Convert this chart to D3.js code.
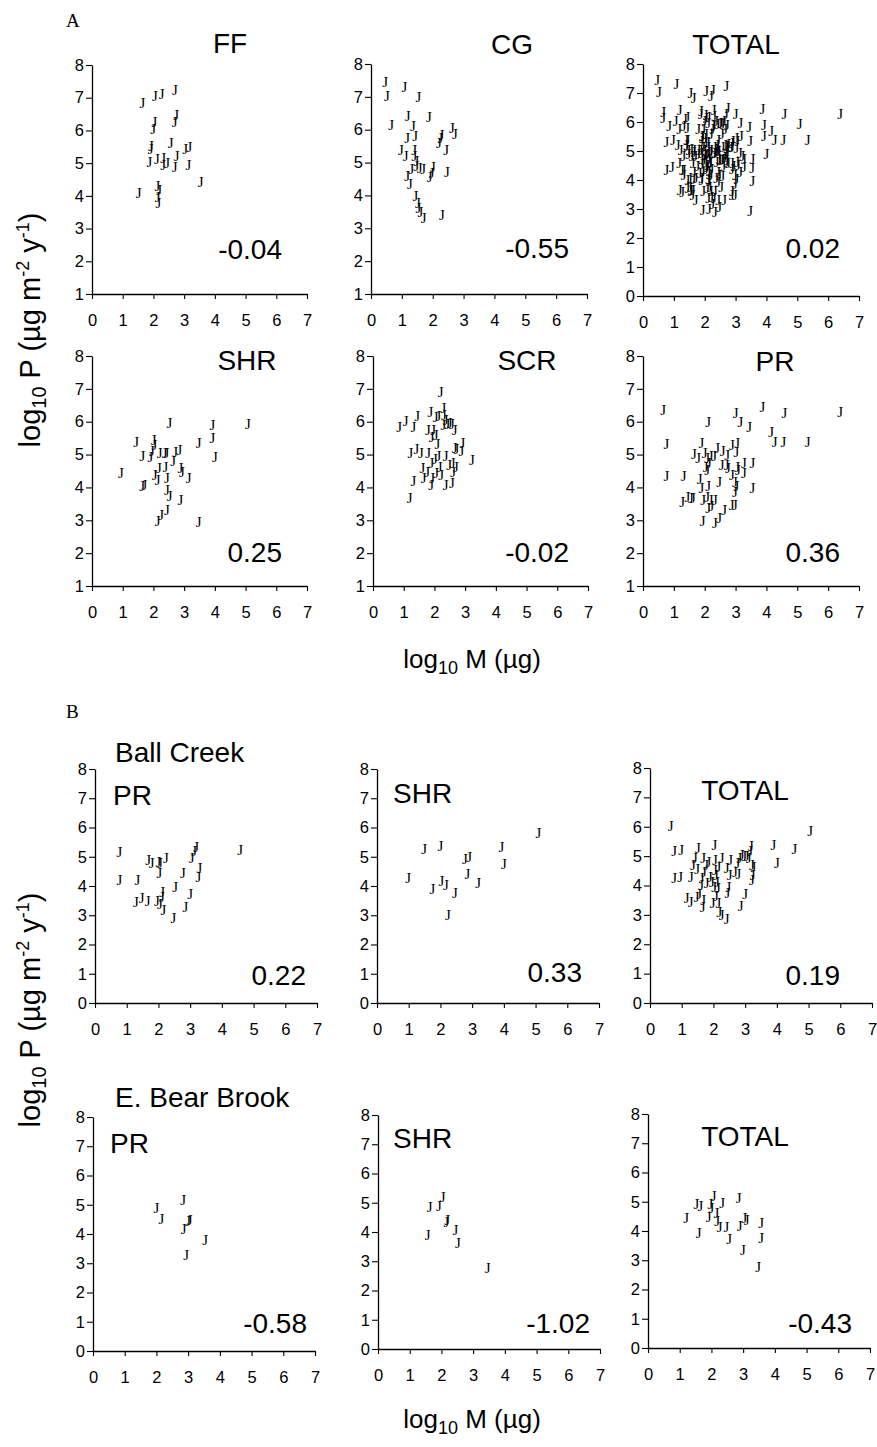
<!DOCTYPE html>
<html>
<head>
<meta charset="utf-8">
<script src="https://cdn.jsdelivr.net/npm/d3@7"></script>
<style>
  body { margin: 0; background: #fff; }
  text { fill: #000; }
</style>
</head>
<body>
<svg id="chart" width="877" height="1447"></svg>
<script>
// Each point: [log10 M (µg), log10 P (µg m-2 y-1)]

// --- A: all streams, by functional group ---
const ffPoints = [
  [1.52,4.08],[1.64,6.83],[2.05,7.06],[2.27,7.11],[2.70,7.24],[2.03,6.25],[1.99,6.03],
  [2.74,6.47],[2.69,6.27],[1.92,5.53],[1.91,5.43],[2.56,5.60],[3.03,5.43],[3.17,5.50],
  [1.87,5.04],[2.11,5.12],[2.32,5.15],[2.32,4.94],[2.45,5.00],[2.76,5.23],[2.69,4.89],
  [3.14,4.94],[3.54,4.41],[2.13,4.30],[2.19,4.18],[2.14,3.97],[2.16,3.77]
];
const cgPoints = [
  [0.46,7.45],[0.52,7.02],[1.08,7.30],[1.54,6.99],[0.65,6.13],[1.19,6.41],[1.88,6.39],
  [1.36,6.10],[1.17,5.75],[1.43,5.80],[2.62,6.05],[2.72,5.88],[2.28,5.85],[2.25,5.75],
  [2.20,5.60],[2.44,5.37],[0.97,5.37],[1.12,5.21],[1.40,5.37],[1.41,5.21],[1.47,5.04],
  [1.47,4.89],[1.31,4.81],[1.58,4.84],[1.69,4.81],[2.01,4.87],[1.97,4.68],[1.90,4.55],
  [2.46,4.71],[1.17,4.58],[1.26,4.36],[1.44,3.99],[1.52,3.77],[1.54,3.62],[1.60,3.49],
  [1.71,3.30],[2.30,3.39]
];
const shrPoints = [
  [0.94,4.43],[1.44,5.37],[1.64,4.97],[1.90,4.92],[1.95,5.12],[2.01,5.44],[2.03,5.29],
  [2.20,5.04],[2.37,5.06],[2.42,5.04],[2.71,5.09],[2.85,5.14],[2.64,4.79],[2.52,5.97],
  [3.92,5.90],[3.92,5.50],[3.47,5.34],[4.00,4.91],[5.08,5.93],[2.18,4.58],[2.39,4.63],
  [2.88,4.58],[2.93,4.48],[3.15,4.28],[2.04,4.38],[2.14,4.21],[2.44,4.28],[1.63,4.04],
  [1.71,4.07],[2.44,3.92],[2.53,3.74],[2.88,3.62],[2.44,3.31],[2.25,3.16],[2.14,2.99],
  [3.47,2.94]
];
const scrPoints = [
  [2.20,6.91],[0.85,5.85],[1.06,6.02],[1.32,5.85],[1.44,6.17],[1.87,6.28],[2.04,6.13],
  [2.13,6.17],[2.29,6.41],[2.31,6.20],[2.37,6.05],[2.42,5.92],[2.50,5.95],[2.57,5.92],
  [2.66,5.75],[2.29,5.90],[1.79,5.75],[1.96,5.75],[2.04,5.60],[1.91,5.53],[2.10,5.32],
  [1.22,5.04],[1.41,5.16],[1.56,5.06],[1.80,5.04],[2.13,4.96],[2.37,4.96],[2.02,4.86],
  [1.90,4.73],[2.66,5.19],[2.72,5.16],[2.91,5.36],[2.88,5.12],[3.22,4.84],[1.61,4.58],
  [1.76,4.48],[1.65,4.28],[1.32,4.18],[1.93,4.28],[1.89,4.08],[2.06,4.43],[2.17,4.63],
  [2.22,4.38],[2.48,4.68],[2.59,4.73],[2.70,4.63],[2.61,4.48],[2.37,4.08],[2.57,4.13],
  [1.19,3.67]
];
const prPoints = [
  [0.65,6.36],[0.76,5.31],[0.76,4.36],[1.32,4.36],[1.27,3.57],[1.44,3.72],[1.55,3.67],
  [1.62,3.67],[2.11,5.98],[3.00,6.26],[3.16,5.98],[3.44,5.83],[3.87,6.46],[4.58,6.26],
  [6.39,6.29],[4.15,5.68],[4.27,5.37],[4.55,5.37],[5.34,5.37],[1.89,5.34],[1.65,5.02],
  [1.79,4.89],[2.00,5.04],[2.08,4.89],[2.19,4.96],[2.31,4.94],[2.40,5.21],[2.58,5.12],
  [2.73,4.99],[2.88,5.29],[3.05,5.36],[3.03,5.09],[2.14,4.73],[2.03,4.63],[2.08,4.52],
  [2.55,4.68],[2.71,4.68],[2.75,4.59],[3.05,4.63],[3.08,4.52],[3.27,4.73],[3.27,4.45],
  [3.55,4.73],[1.84,4.24],[1.89,3.99],[2.11,4.05],[2.47,4.17],[2.88,4.37],[2.98,4.17],
  [3.03,4.03],[2.98,3.86],[3.55,3.98],[1.95,3.62],[2.08,3.72],[2.19,3.62],[2.33,3.62],
  [2.11,3.37],[2.22,3.42],[2.63,3.32],[2.87,3.47],[2.98,3.47],[2.47,3.06],[2.33,2.91],
  [1.93,2.98]
];
// Total is every group pooled
const totalPoints = [].concat(ffPoints, cgPoints, shrPoints, scrPoints, prPoints);

// --- B: two streams ---
const ballPrPoints = [
  [0.77,5.15],[0.77,4.21],[1.34,4.21],[1.29,3.44],[1.47,3.58],[1.66,3.50],[1.95,3.49],
  [2.05,3.38],[2.16,3.18],[2.47,2.89],[1.68,4.89],[1.79,4.78],[2.00,4.83],[2.05,4.78],
  [2.24,4.95],[2.03,4.43],[2.12,3.81],[2.11,3.63],[2.53,3.98],[2.77,4.43],[3.00,3.73],
  [2.85,3.29],[3.05,4.95],[3.13,5.18],[3.19,5.33],[3.29,4.61],[3.26,4.32],[4.58,5.23]
];
const ballShrPoints = [
  [0.98,4.28],[1.49,5.25],[2.00,5.36],[1.75,3.91],[2.03,4.17],[2.17,4.03],[2.46,3.75],
  [2.24,3.00],[2.77,4.93],[2.91,5.00],[2.85,4.40],[3.19,4.11],[3.92,5.34],[4.00,4.74],
  [5.09,5.82]
];
const ballTotalPoints = [
  [0.65,6.03],[0.76,5.16],[0.98,5.21],[0.76,4.25],[0.95,4.28],[1.51,5.27],[2.03,5.38],
  [3.18,5.35],[3.89,5.38],[4.55,5.25],[5.05,5.87],[4.00,4.76],[1.29,4.30],[1.35,4.70],
  [1.42,4.93],[1.68,4.93],[1.77,4.70],[1.84,4.81],[1.70,4.47],[1.63,4.25],[1.61,4.02],
  [1.16,3.56],[1.28,3.45],[1.47,3.62],[1.55,3.71],[1.66,3.28],[1.68,3.51],[1.79,4.08],
  [1.89,4.30],[1.95,4.13],[2.02,3.96],[2.08,4.36],[2.11,4.13],[2.14,3.90],[2.05,4.87],
  [2.16,4.64],[2.26,4.93],[2.05,4.53],[1.98,3.39],[2.08,3.64],[2.16,3.39],[2.19,3.11],
  [2.26,3.00],[2.42,2.85],[2.44,3.73],[2.47,3.96],[2.51,4.36],[2.42,4.59],[2.53,4.87],
  [2.68,4.47],[2.79,4.39],[2.76,4.76],[2.82,4.93],[2.89,5.04],[2.97,4.99],[3.05,4.99],
  [3.11,4.93],[3.16,5.16],[3.21,4.70],[3.24,4.36],[3.26,4.64],[3.21,4.17],[3.00,3.71],
  [2.86,3.30],[1.49,4.55]
];
const bearPrPoints = [
  [2.00,4.89],[2.16,4.51],[2.84,5.15],[3.05,4.49],[3.00,4.43],[2.86,4.17],[2.94,3.29],
  [3.54,3.78]
];
const bearShrPoints = [
  [1.63,4.85],[1.92,4.90],[2.04,5.21],[2.18,4.41],[2.16,4.33],[2.44,4.07],[2.52,3.61],
  [1.57,3.91],[3.46,2.76]
];
const bearTotalPoints = [
  [1.20,4.43],[1.53,4.93],[1.65,4.85],[1.60,3.92],[1.97,4.93],[2.00,4.78],[2.07,5.20],
  [2.34,4.97],[1.91,4.48],[2.16,4.62],[2.18,4.35],[2.26,4.14],[2.47,4.14],[2.56,3.71],
  [2.86,5.11],[2.89,4.18],[3.04,4.43],[3.11,4.37],[2.99,3.36],[3.57,4.26],[3.57,3.75],
  [3.47,2.78]
];

// Tick values and slope labels
const xTicks = [0, 1, 2, 3, 4, 5, 6, 7];
const yTicksFrom1 = [1, 2, 3, 4, 5, 6, 7, 8];
const yTicksFrom0 = [0, 1, 2, 3, 4, 5, 6, 7, 8];
const groupNames = ["FF", "CG", "TOTAL", "SHR", "SCR", "PR"];
const slopesA = ["-0.04", "-0.55", "0.02", "0.25", "-0.02", "0.36"];
const slopesBall = ["0.22", "0.33", "0.19"];
const slopesBear = ["-0.58", "-1.02", "-0.43"];

const SANS = "'Liberation Sans', Arial, Helvetica, sans-serif";
const SERIF = "'Liberation Serif', 'Times New Roman', serif";

const svg = d3.select("#chart");

// Panel frames: pixel extent of the plotting area for each panel
const panels = [
  // section A
  { pts: ffPoints,    x0: 92,  x1: 307, yT: 65,   yB: 294,  yMin: 1, title: groupNames[0], tx: 230, ty: 53,  tAnchor: "middle", r: slopesA[0], rx: 282, ry: 259 },
  { pts: cgPoints,    x0: 371, x1: 587, yT: 64,   yB: 294,  yMin: 1, title: groupNames[1], tx: 512, ty: 54,  tAnchor: "middle", r: slopesA[1], rx: 569, ry: 258 },
  { pts: totalPoints, x0: 643, x1: 859, yT: 64,   yB: 296,  yMin: 0, title: groupNames[2], tx: 736, ty: 54,  tAnchor: "middle", r: slopesA[2], rx: 840, ry: 258 },
  { pts: shrPoints,   x0: 92,  x1: 307, yT: 356,  yB: 586,  yMin: 1, title: groupNames[3], tx: 247, ty: 370, tAnchor: "middle", r: slopesA[3], rx: 282, ry: 562 },
  { pts: scrPoints,   x0: 373, x1: 588, yT: 356,  yB: 586,  yMin: 1, title: groupNames[4], tx: 527, ty: 370, tAnchor: "middle", r: slopesA[4], rx: 569, ry: 562 },
  { pts: prPoints,    x0: 643, x1: 859, yT: 356,  yB: 586,  yMin: 1, title: groupNames[5], tx: 775, ty: 371, tAnchor: "middle", r: slopesA[5], rx: 840, ry: 562 },
  // section B, Ball Creek
  { pts: ballPrPoints,    x0: 95,  x1: 317, yT: 769,  yB: 1003, yMin: 0, title: "PR",    tx: 113, ty: 805,  tAnchor: "start",  r: slopesBall[0], rx: 306, ry: 985 },
  { pts: ballShrPoints,   x0: 377, x1: 599, yT: 769,  yB: 1003, yMin: 0, title: "SHR",   tx: 393, ty: 803,  tAnchor: "start",  r: slopesBall[1], rx: 582, ry: 982 },
  { pts: ballTotalPoints, x0: 650, x1: 872, yT: 768,  yB: 1003, yMin: 0, title: "TOTAL", tx: 745, ty: 800,  tAnchor: "middle", r: slopesBall[2], rx: 840, ry: 985 },
  // section B, E. Bear Brook
  { pts: bearPrPoints,    x0: 93,  x1: 315, yT: 1117, yB: 1351, yMin: 0, title: "PR",    tx: 110, ty: 1153, tAnchor: "start",  r: slopesBear[0], rx: 307, ry: 1333 },
  { pts: bearShrPoints,   x0: 378, x1: 600, yT: 1115, yB: 1349, yMin: 0, title: "SHR",   tx: 393, ty: 1148, tAnchor: "start",  r: slopesBear[1], rx: 590, ry: 1333 },
  { pts: bearTotalPoints, x0: 648, x1: 870, yT: 1114, yB: 1348, yMin: 0, title: "TOTAL", tx: 745, ty: 1146, tAnchor: "middle", r: slopesBear[2], rx: 852, ry: 1333 }
];

function drawPanel(p) {
  const x = d3.scaleLinear().domain([0, 7]).range([p.x0, p.x1]);
  const y = d3.scaleLinear().domain([p.yMin, 8]).range([p.yB, p.yT]);
  const g = svg.append("g");

  const xAxis = g.append("g")
    .attr("transform", `translate(0,${p.yB})`)
    .call(d3.axisBottom(x).tickValues(xTicks).tickFormat(d3.format("d"))
      .tickSize(5).tickSizeOuter(0).tickPadding(15));
  const yAxis = g.append("g")
    .attr("transform", `translate(${p.x0},0)`)
    .call(d3.axisLeft(y).tickValues(p.yMin === 0 ? yTicksFrom0 : yTicksFrom1)
      .tickFormat(d3.format("d")).tickSize(6).tickSizeOuter(0).tickPadding(2));
  [xAxis, yAxis].forEach(a => {
    a.selectAll("path.domain").attr("stroke", "#000").attr("stroke-width", 1.3);
    a.selectAll("line").attr("stroke", "#000").attr("stroke-width", 1.1);
    a.selectAll("text").attr("font-family", SANS).attr("font-size", 16.5).attr("fill", "#000");
  });

  g.append("g").selectAll("text")
    .data(p.pts)
    .join("text")
    .attr("x", d => x(d[0]))
    .attr("y", d => y(d[1]))
    .attr("dy", "0.33em")
    .attr("text-anchor", "middle")
    .attr("font-family", SERIF)
    .attr("font-size", 15)
    .text("J");

  g.append("text")
    .attr("x", p.tx).attr("y", p.ty)
    .attr("text-anchor", p.tAnchor)
    .attr("font-family", SANS).attr("font-size", 28)
    .text(p.title);

  g.append("text")
    .attr("x", p.rx).attr("y", p.ry)
    .attr("text-anchor", "end")
    .attr("font-family", SANS).attr("font-size", 28)
    .text(p.r);
}
panels.forEach(drawPanel);

// Section letters
svg.append("text").attr("x", 66).attr("y", 27).attr("font-family", SERIF).attr("font-size", 19).text("A");
svg.append("text").attr("x", 66).attr("y", 718).attr("font-family", SERIF).attr("font-size", 19).text("B");

// Stream names
svg.append("text").attr("x", 115).attr("y", 762).attr("font-family", SANS).attr("font-size", 28).text("Ball Creek");
svg.append("text").attr("x", 115).attr("y", 1107).attr("font-family", SANS).attr("font-size", 28).text("E. Bear Brook");

// Axis titles with sub/superscripts
function yTitle(cy) {
  const t = svg.append("text")
    .attr("transform", `translate(40,${cy}) rotate(-90)`)
    .attr("text-anchor", "middle")
    .attr("font-family", SANS).attr("font-size", 29);
  t.append("tspan").text("log");
  t.append("tspan").attr("font-size", 20).attr("dy", 6).text("10");
  t.append("tspan").attr("dy", -6).text(" P (µg m");
  t.append("tspan").attr("font-size", 18).attr("dy", -11).text("-2");
  t.append("tspan").attr("dy", 11).text(" y");
  t.append("tspan").attr("font-size", 18).attr("dy", -11).text("-1");
  t.append("tspan").attr("dy", 11).text(")");
}
function xTitle(cy) {
  const t = svg.append("text")
    .attr("x", 472).attr("y", cy)
    .attr("text-anchor", "middle")
    .attr("font-family", SANS).attr("font-size", 26);
  t.append("tspan").text("log");
  t.append("tspan").attr("font-size", 18).attr("dy", 6).text("10");
  t.append("tspan").attr("dy", -6).text(" M (µg)");
}
yTitle(330);
yTitle(1010);
xTitle(668);
xTitle(1428);
</script>
</body>
</html>
